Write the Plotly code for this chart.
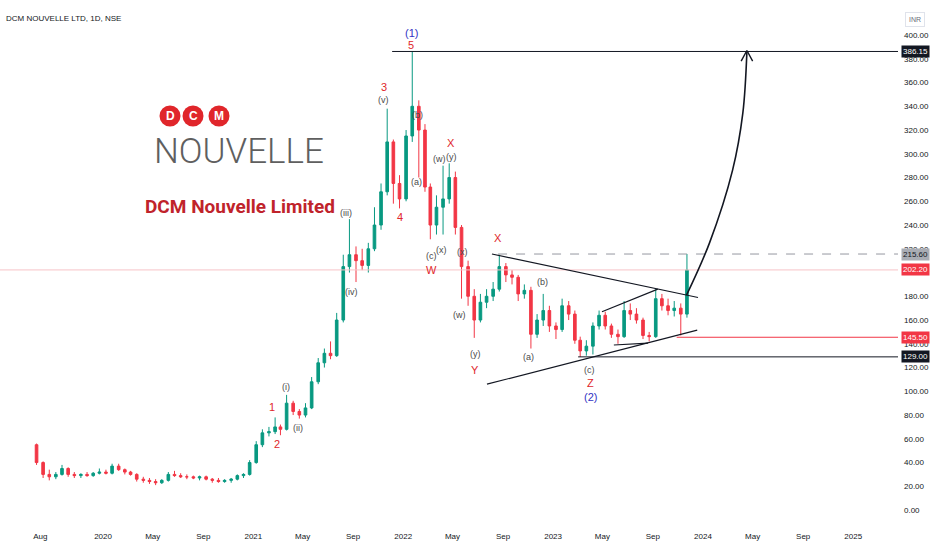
import plotly.graph_objects as go

# half-month candles (Jul 2019 - Nov 2023)
opens = [55, 40, 30, 28, 30, 35, 30, 29, 30, 29, 31, 32, 31, 37, 34, 32, 30, 26, 25, 24,
         23, 25, 30, 29, 28, 28, 27, 28, 26, 25, 24, 25, 26, 29, 30, 40, 55, 65, 66, 70,
         68, 90, 83, 80, 86, 108, 124, 132, 130, 160, 205, 215, 210, 206, 220, 240, 268, 310, 275, 262,
         315, 340, 320, 272, 240, 255, 262, 280, 238, 205, 180, 160, 175, 180, 186, 205, 198, 196, 182, 185,
         148, 160, 168, 155, 152, 172, 165, 143, 134, 138, 155, 164, 155, 148, 146, 168, 165, 160, 147, 146,
         178, 172, 168, 170, 165]
highs = [56, 41, 34, 32, 38, 36, 32, 31, 32, 32, 35, 34, 39, 39, 35, 33, 31, 28, 27, 26,
         26, 32, 33, 31, 30, 29, 29, 29, 27, 27, 26, 27, 30, 31, 42, 58, 68, 70, 78, 72,
         97, 92, 85, 90, 112, 128, 136, 142, 166, 215, 245, 222, 220, 225, 255, 275, 338, 312, 282, 320,
         386.15, 345, 325, 275, 265, 290, 292, 285, 240, 210, 186, 182, 186, 192, 215, 208, 202, 198, 190, 188,
         165, 182, 172, 158, 178, 176, 168, 146, 143, 158, 168, 167, 157, 152, 176, 174, 170, 162, 150, 186,
         182, 178, 176, 174, 215.6]
lows = [38, 27, 25, 26, 29, 28, 27, 27, 28, 28, 30, 30, 30, 33, 30, 29, 24, 23, 22, 21,
        22, 24, 28, 27, 26, 26, 25, 25, 23, 23, 23, 23, 25, 27, 29, 39, 53, 62, 64, 63,
        67, 80, 77, 78, 85, 106, 120, 127, 129, 158, 200, 192, 202, 200, 218, 236, 265, 258, 254, 260,
        310, 280, 268, 228, 232, 232, 258, 232, 178, 172, 145, 158, 170, 176, 184, 192, 190, 176, 178, 136,
        145, 155, 150, 144, 150, 160, 140, 129, 130, 131, 152, 152, 145, 140, 145, 160, 157, 144, 142, 145,
        168, 164, 163, 147, 162]
closes = [40, 30, 28, 30, 35, 30, 29, 30, 29, 31, 32, 31, 37, 34, 32, 30, 26, 25, 24, 23,
          25, 30, 29, 28, 28, 27, 28, 26, 25, 24, 25, 26, 29, 30, 40, 55, 65, 66, 70, 68,
          90, 83, 80, 86, 108, 124, 132, 130, 160, 205, 215, 210, 206, 220, 240, 268, 310, 275, 262, 315,
          340, 320, 272, 240, 255, 262, 280, 238, 205, 180, 160, 175, 180, 186, 205, 198, 196, 182, 185, 148,
          160, 168, 155, 152, 172, 165, 143, 134, 138, 155, 164, 155, 148, 146, 168, 165, 160, 147, 146, 178,
          172, 168, 170, 165, 202.2]

dates = ["2019-07-23"]
for yr in range(2019, 2024):
    for mo in range(1, 13):
        if (yr == 2019 and mo < 8) or (yr == 2023 and mo > 11):
            continue
        dates.append(f"{yr}-{mo:02d}-08")
        dates.append(f"{yr}-{mo:02d}-23")

tick_dates = ["2019-08-01", "2020-01-01", "2020-05-01", "2020-09-01", "2021-01-01", "2021-05-01",
              "2021-09-01", "2022-01-01", "2022-05-01", "2022-09-01", "2023-01-01", "2023-05-01",
              "2023-09-01", "2024-01-01", "2024-05-01", "2024-09-01", "2025-01-01"]
tick_text = ["Aug", "2020", "May", "Sep", "2021", "May", "Sep", "2022", "May", "Sep",
             "2023", "May", "Sep", "2024", "May", "Sep", "2025"]
price_ticks = list(range(0, 401, 20))

RED = "#e0262b"
BLUE = "#3333c4"
GREY = "#4a4a4a"
FONT = "Liberation Sans"

# elliott wave labels: (date, price, text, colour, size)
wave_labels = [
    ("2022-01-22", 402, "(1)", BLUE, 11), ("2022-01-21", 392, "5", RED, 11),
    ("2021-11-15", 356, "3", RED, 11), ("2021-11-15", 345, "(v)", GREY, 9),
    ("2022-02-04", 333, "(b)", GREY, 9), ("2022-02-02", 276, "(a)", GREY, 9),
    ("2021-12-24", 247, "4", RED, 11), ("2021-08-15", 250, "(iii)", GREY, 9),
    ("2021-08-27", 184, "(iv)", GREY, 9), ("2021-03-22", 104, "(i)", GREY, 9),
    ("2021-02-15", 87, "1", RED, 11), ("2021-02-28", 56, "2", RED, 11),
    ("2021-04-20", 69, "(ii)", GREY, 9), ("2022-03-31", 296, "(w)", GREY, 9),
    ("2022-04-29", 297, "(y)", GREY, 9), ("2022-04-27", 309, "X", RED, 11),
    ("2022-03-12", 214, "(c)", GREY, 9), ("2022-03-12", 202, "W", RED, 11),
    ("2022-04-05", 219, "(x)", GREY, 9), ("2022-05-26", 217, "(x)", GREY, 9),
    ("2022-05-17", 164, "(w)", GREY, 9), ("2022-06-27", 131, "(y)", GREY, 9),
    ("2022-06-25", 118, "Y", RED, 11), ("2022-08-20", 229, "X", RED, 11),
    ("2022-12-07", 192, "(b)", GREY, 9), ("2022-11-01", 129, "(a)", GREY, 9),
    ("2023-03-31", 118, "(c)", GREY, 9), ("2023-04-02", 107, "Z", RED, 11),
    ("2023-04-02", 95, "(2)", BLUE, 11),
]

# drawn trend lines: (dates, prices)
tri_upper = (["2022-08-05", "2023-12-20"], [215.6, 179])
tri_lower = (["2022-07-24", "2023-12-18"], [106, 151.5])
chan_upper = (["2023-04-30", "2023-09-13"], [167, 186])
chan_lower = (["2023-05-29", "2023-08-20"], [139, 140.5])
arrow_path = (["2023-11-22", "2024-01-17", "2024-03-13", "2024-04-07", "2024-04-17"],
              [181, 225, 286, 334, 386])
arrow_head = (["2024-04-03", "2024-04-17", "2024-05-01"], [378, 387, 378])

# horizontal levels: (start date, price, colour, dash, label bg, label font colour)
levels = [
    ("2021-12-05", 386.15, "#131722", "solid", "#131722", "white"),
    ("2022-08-20", 215.60, "#9598a1", "dash", "#a9acb4", "#131722"),
    ("2019-04-25", 202.20, "#f7c3c7", "solid", "#f23645", "white"),
    ("2023-10-29", 145.50, "#f23645", "solid", "#f23645", "white"),
    ("2023-03-03", 129.00, "#131722", "solid", "#131722", "white"),
]
x_end = "2025-04-20"

fig = go.Figure()

for start, price, col, dash, bg, fc in levels:
    fig.add_trace(go.Scatter(x=[start, x_end], y=[price, price], mode="lines",
                             line=dict(color=col, width=1, dash=dash), hoverinfo="skip"))

fig.add_trace(go.Candlestick(
    x=dates, open=opens, high=highs, low=lows, close=closes,
    increasing=dict(line=dict(color="#089981", width=1), fillcolor="#089981"),
    decreasing=dict(line=dict(color="#f23645", width=1), fillcolor="#f23645"),
    whiskerwidth=0,
))

for xs, ys in [tri_upper, tri_lower, chan_upper, chan_lower]:
    fig.add_trace(go.Scatter(x=xs, y=ys, mode="lines", line=dict(color="#131722", width=1.2),
                             hoverinfo="skip"))
fig.add_trace(go.Scatter(x=arrow_path[0], y=arrow_path[1], mode="lines",
                         line=dict(color="#131722", width=1.6, shape="spline"), hoverinfo="skip"))
fig.add_trace(go.Scatter(x=arrow_head[0], y=arrow_head[1], mode="lines",
                         line=dict(color="#131722", width=1.4), hoverinfo="skip"))

for d, p, t, c, s in wave_labels:
    fig.add_annotation(x=d, y=p, text=t, showarrow=False, xanchor="center",
                       font=dict(family=FONT, size=s, color=c))

for start, price, col, dash, bg, fc in levels:
    fig.add_annotation(xref="paper", x=1, y=price, text=f"{price:.2f}", showarrow=False,
                       xanchor="left", xshift=3, bgcolor=bg, borderpad=1,
                       font=dict(family=FONT, size=8, color=fc))

# logo block (paper coords from pixel positions in the 898x530 plot area)
for letter, lx in [("D", 170), ("C", 193), ("M", 219)]:
    fig.add_shape(type="circle", xref="paper", yref="paper", xsizemode="pixel", ysizemode="pixel",
                  xanchor=lx / 898, yanchor=1 - 116 / 530, x0=-10.5, x1=10.5, y0=-10.5, y1=10.5,
                  fillcolor="#e0262b", line=dict(width=0), layer="below")
    fig.add_annotation(xref="paper", yref="paper", x=lx / 898, y=1 - 116 / 530, text=f"<b>{letter}</b>",
                       showarrow=False, xanchor="center", yanchor="middle",
                       font=dict(family=FONT, size=12, color="white"))
fig.add_annotation(xref="paper", yref="paper", x=238.5 / 898, y=1 - 152 / 530, text="NOUVELLE",
                   showarrow=False, xanchor="center", yanchor="middle",
                   font=dict(family="Roboto", size=35, color="#5f5f5f", weight=300))
fig.add_annotation(xref="paper", yref="paper", x=240 / 898, y=1 - 206 / 530,
                   text="<b>DCM Nouvelle Limited</b>", showarrow=False, xanchor="center", yanchor="middle",
                   font=dict(family="Roboto", size=19, color="#c0232b"))

fig.add_annotation(xref="paper", yref="paper", x=0.004, y=1 - 12 / 530, xanchor="left",
                   text="DCM NOUVELLE LTD, 1D, NSE", showarrow=False,
                   font=dict(family=FONT, size=8, color="#131722"))
fig.add_annotation(xref="paper", yref="paper", x=1 + 17 / 898, y=1 - 12 / 530, text="INR",
                   showarrow=False, xanchor="center", bordercolor="#e0e3eb", borderwidth=1, borderpad=3,
                   font=dict(family=FONT, size=7, color="#6a6d78"))

fig.update_layout(
    width=932, height=550,
    margin=dict(l=0, r=34, t=0, b=20),
    plot_bgcolor="white", paper_bgcolor="white",
    showlegend=False,
    xaxis=dict(range=["2019-04-25", x_end], tickvals=tick_dates, ticktext=tick_text,
               showgrid=False, zeroline=False, ticks="", rangeslider=dict(visible=False),
               tickfont=dict(family=FONT, size=8, color="#131722")),
    yaxis=dict(range=[-16.8, 429.5], side="right", tickvals=price_ticks, tickformat=".2f",
               showgrid=False, zeroline=False, ticks="", ticklabelstandoff=5,
               tickfont=dict(family=FONT, size=8, color="#131722")),
)

# the page has a default body margin; drop it so the figure fills the window
fig.write_html("out.html", config={"displayModeBar": False},
               post_script="document.body.style.margin='0';")
